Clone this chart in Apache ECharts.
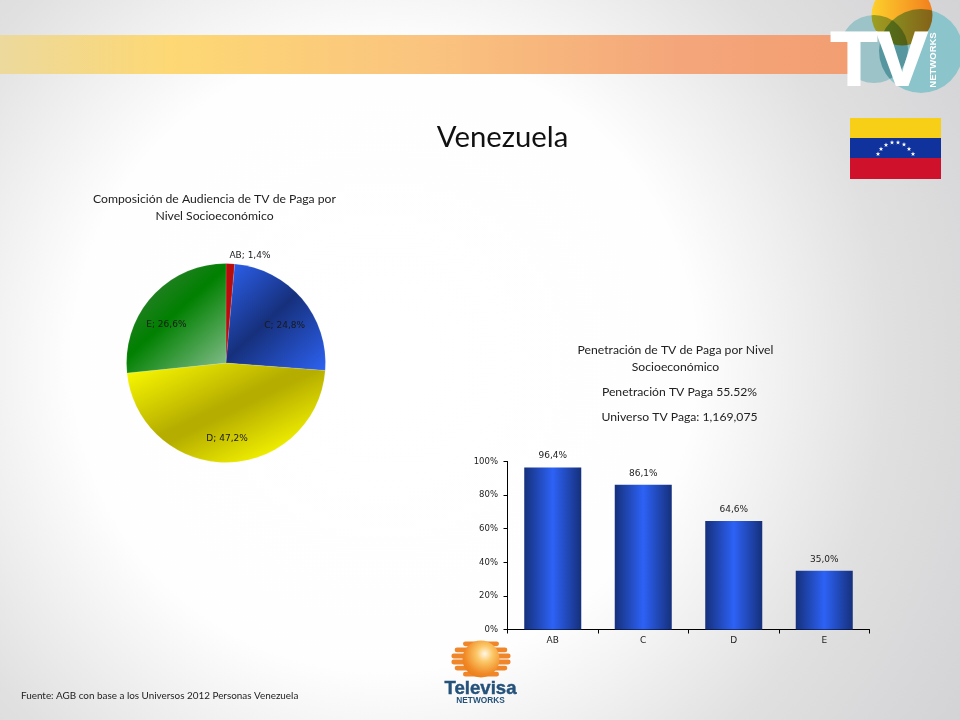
<!DOCTYPE html>
<html><head><meta charset="utf-8">
<style>html,body{margin:0;padding:0;background:#fff}#c{width:960px;height:720px}</style>
<script src="https://cdn.jsdelivr.net/npm/echarts@6/dist/echarts.min.js"></script>
</head><body><div id="c"></div>
<script>
const pieNames = ['AB','C','D','E'];
const pieValues = [1.4,24.8,47.2,26.6];
const barCategories = ['AB','C','D','E'];
const barValues = [96.4,86.1,64.6,35.0];
const yTicks = [0,20,40,60,80,100];

const chart = echarts.init(document.getElementById('c'),null,{renderer:'canvas'});
const lg = (stops,x=0,y=0,x2=1,y2=1)=>new echarts.graphic.LinearGradient(x,y,x2,y2,stops.map(([offset,color])=>({offset,color})));
const fmt = v=>v.toFixed(1).replace('.',',')+'%';
const labelFont = '"DejaVu Sans"';
const sliceStyle = [
  {color:'#b80d0d'},
  {color:lg([[0,'#2d62f2'],[0.48,'#16307c'],[1,'#2d62f2']])},
  {color:lg([[0,'#ffff00'],[0.5,'#b5ad00'],[0.56,'#b5ad00'],[1,'#ffff00']],0.37,-0.35,0.72,1.08)},
  {color:lg([[0,'#4a7f4a'],[0.47,'#008000'],[1,'#8cc094']])}
];
const labelOffsets = [[-1,-7],[18.5,-3],[0.4,23],[-20.5,-3.4]];
const pieData = pieNames.map((name,i)=>({name,value:pieValues[i],itemStyle:sliceStyle[i],
  label:{position:i===0?'outside':'inside',offset:labelOffsets[i]}}));
function star(cx,cy,r){const p=[];for(let i=0;i<10;i++){const a=-Math.PI/2+i*Math.PI/5,q=i%2?r*0.42:r;p.push([cx+q*Math.cos(a),cy+q*Math.sin(a)]);}
  return {type:'polygon',shape:{points:p},style:{fill:'#fff'},silent:true};}
const flagStars = [[878,154],[881,149],[886,145],[892,142.5],[898,142.5],[904,144.5],[909,149],[913,154]].map(s=>star(s[0],s[1],2.4));
const rect=(x,y,width,height,fill,r=0)=>({type:'rect',shape:{x,y,width,height,r},style:{fill},silent:true});
const circle=(cx,cy,r,fill,blend)=>({type:'circle',shape:{cx,cy,r},style:{fill,blend},silent:true});
const txt=(text,x,y,font,fill,extra={},stroke)=>({type:'text',x,y,style:{text,font,fill,align:'center',verticalAlign:'middle',...(stroke?{stroke:fill,lineWidth:stroke}:{})},silent:true,...extra});
const ballStripes=[643.8,649.9,656,662,668.1,674.2].map(y=>{const w=2*30*Math.sqrt(Math.max(0,1-Math.pow((y-659)/19,2)));return rect(481-w/2,y-2.4,w,4.8,'#f0862a',2.4);});

chart.setOption({
  animation:false,
  backgroundColor:new echarts.graphic.RadialGradient(0.4,0.5,1.03,[{offset:0,color:'#ffffff'},{offset:0.42,color:'#fefefe'},{offset:0.68,color:'#e0e0e0'},{offset:0.82,color:'#d8d8da'},{offset:1,color:'#cfcfd1'}]),
  textStyle:{fontFamily:labelFont},
  title:[
    {text:'Venezuela',left:502.5,top:123,padding:0,textAlign:'center',textStyle:{fontFamily:'Lato',fontSize:29.3,fontWeight:'normal',color:'#111'}},
    {text:'Composición de Audiencia de TV de Paga por\nNivel Socioeconómico',left:214.5,top:191,padding:0,textAlign:'center',textStyle:{fontFamily:'Lato',fontSize:12.2,fontWeight:'normal',color:'#222',lineHeight:16.5}},
    {text:'Penetración de TV de Paga por Nivel\nSocioeconómico',left:675.5,top:342,padding:0,textAlign:'center',textStyle:{fontFamily:'Lato',fontSize:12.2,fontWeight:'normal',color:'#222',lineHeight:16.5}},
    {text:'Penetración TV Paga 55.52%',left:679.5,top:386,padding:0,textAlign:'center',textStyle:{fontFamily:'Lato',fontSize:12.2,fontWeight:'normal',color:'#222'}},
    {text:'Universo TV Paga: 1,169,075',left:679.5,top:411,padding:0,textAlign:'center',textStyle:{fontFamily:'Lato',fontSize:12.2,fontWeight:'normal',color:'#222'}},
    {text:'Fuente: AGB con base a los Universos 2012 Personas Venezuela',left:21,top:691,padding:0,textStyle:{fontFamily:'Lato',fontSize:9.9,fontWeight:'normal',color:'#222'}}
  ],
  grid:{left:507.5,right:90.5,top:461.5,height:168,containLabel:false},
  xAxis:{type:'category',data:barCategories,axisLine:{lineStyle:{color:'#000',width:1}},axisTick:{show:true,alignWithLabel:false,length:4,inside:false,lineStyle:{color:'#000'}},
    axisLabel:{color:'#222',fontSize:9,margin:7,fontFamily:labelFont}},
  yAxis:{type:'value',min:yTicks[0],max:yTicks[yTicks.length-1],interval:yTicks[1]-yTicks[0],splitLine:{show:false},
    axisLine:{show:true,lineStyle:{color:'#000',width:1}},axisTick:{show:true,length:4,lineStyle:{color:'#000'}},
    axisLabel:{color:'#222',fontSize:8.5,margin:9.5,formatter:'{value}%',fontFamily:labelFont}},
  series:[
    {type:'pie',center:[226,363],radius:[0,99.5],startAngle:90,clockwise:true,avoidLabelOverlap:false,silent:true,
      data:pieData,itemStyle:{borderColor:'rgba(255,255,255,0.25)',borderWidth:0.5},
      label:{show:true,formatter:p=>p.name+'; '+fmt(p.value),fontSize:9,color:'#1a1a1a',fontFamily:labelFont,distanceToLabelLine:0},
      labelLine:{show:false,length:1,length2:0}},
    {type:'bar',data:barValues,barWidth:'63%',silent:true,
      itemStyle:{color:lg([[0,'#15307c'],[0.5,'#2d62f6'],[1,'#15307c']],0,0,1,0)},
      label:{show:true,position:'top',distance:7,formatter:p=>fmt(p.value),fontSize:9,color:'#222',fontFamily:labelFont}}
  ],
  graphic:[
    {type:'group',silent:true,z:-1,children:[
      circle(874,49,34,'#fff'),
      circle(921,51,42,'#fff'),
      circle(902,15,30.5,'#fff'),
      circle(874,49,34,'#9cc3c8','multiply'),
      circle(921,51,42,'#8cc4cb','multiply'),
      circle(902,15,30.5,lg([[0,'#fdd12c'],[1,'#f27f1e']],0,0.5,1,0.5),'multiply'),
      rect(0,35,848,39,lg([[0,'#ecd99c'],[0.2,'#fdd874'],[0.5,'#fac47f'],[0.8,'#f4a67a'],[1,'#f29e72']],0,0,1,0)),
      txt('T',854,64,'bold 76px "Liberation Sans"','#fff',{},2),
      txt('V',902,64,'bold 76px "Liberation Sans"','#fff',{},2),
      txt('NETWORKS',933,60,'bold 9.5px "Liberation Sans"','#fff',{rotation:Math.PI/2}),
      rect(850,118,91,20,'#f6cf16'),
      rect(850,138,91,20,'#10329c'),
      rect(850,158,91,21,'#cf112b'),
      ...flagStars,
      ...ballStripes,
      circle(481,659,18.5,new echarts.graphic.RadialGradient(0.6,0.36,0.72,[{offset:0,color:'#fff8e6'},{offset:0.3,color:'#fcc868'},{offset:0.75,color:'#f08a26'},{offset:1,color:'#e87a18'}])),
      txt('Televisa',480.5,688.5,'bold 18.6px "Liberation Sans"','#24527a',{},0.4),
      txt('NETWORKS',480.5,701,'bold 8.3px "Liberation Sans"','#24527a')
    ]}
  ]
});
</script></body></html>
